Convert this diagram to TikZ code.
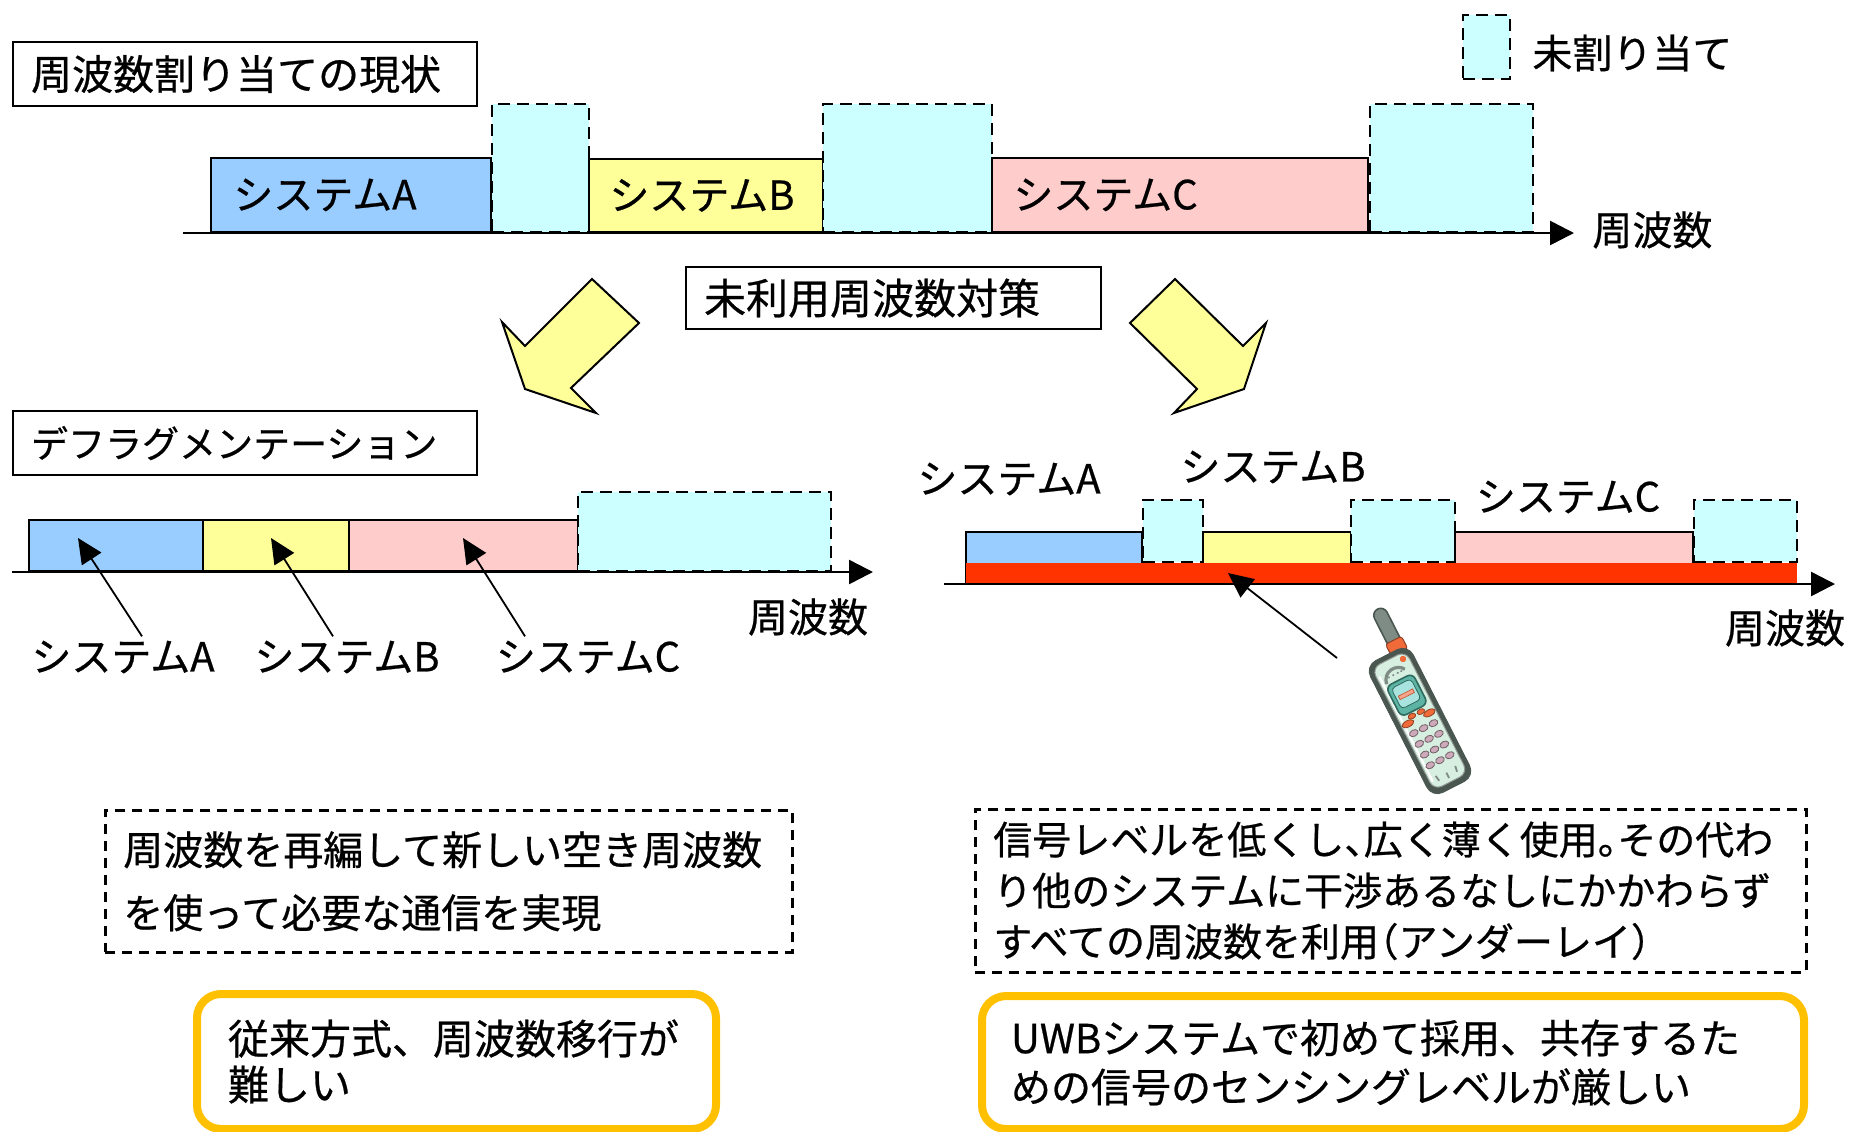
\documentclass[tikz,border=0pt]{standalone}
\usepackage{fontspec}
\setmainfont{Noto Sans CJK JP}[FakeBold=0.6]
\usetikzlibrary{arrows.meta,calc}

% band colours
\definecolor{bandA}{HTML}{99CCFF}
\definecolor{bandB}{HTML}{FFFF99}
\definecolor{bandC}{HTML}{FFCCCC}
\definecolor{freeband}{HTML}{CCFFFF}
\definecolor{uwbred}{HTML}{FF3300}
\definecolor{noteorange}{HTML}{FFC000}
\definecolor{bigarrow}{HTML}{FFFF99}
% handset colours
\definecolor{phonedark}{HTML}{4A5650}
\definecolor{phonegray}{HTML}{7F8C86}
\definecolor{phonemint}{HTML}{D6EFE0}
\definecolor{phoneteal}{HTML}{5DB3A4}
\definecolor{phonetealdark}{HTML}{2E6B5E}
\definecolor{phonescreen}{HTML}{A9E3DF}
\definecolor{phonebar}{HTML}{F4A48A}
\definecolor{phoneorange}{HTML}{F06A3A}
\definecolor{phonekey}{HTML}{CDAAB9}

% half-width punctuation
\newcommand{\hw}[1]{{\addfontfeature{RawFeature=+halt}#1}}

\tikzset{
  txt/.style={inner sep=0pt},
  f18/.style={font=\fontsize{18.5}{22}\selectfont},
  f19/.style={font=\fontsize{19.5}{25.5}\selectfont},
  f195/.style={font=\fontsize{20}{24.5}\selectfont},
  f20/.style={font=\fontsize{20}{24}\selectfont},
  f20b/.style={font=\fontsize{20}{31.5}\selectfont},
  f205/.style={font=\fontsize{20.5}{23}\selectfont},
  f21/.style={font=\fontsize{21}{25}\selectfont},
  titlebox/.style={draw, line width=1.1pt, anchor=north west, align=left, inner xsep=9pt, inner ysep=0pt},
  band/.style={draw, line width=1.1pt, anchor=south west, inner sep=0pt},
  freebox/.style={draw, line width=1.1pt, dash pattern=on 6pt off 3.5pt, fill=freeband, anchor=south west, inner sep=0pt},
  notebox/.style={draw, line width=1.3pt, dash pattern=on 5pt off 3.5pt, anchor=north west, align=left, inner xsep=9pt, inner ysep=0pt},
  goalbox/.style={draw=noteorange, line width=4pt, rounded corners=12pt, fill=white, anchor=north west, align=left, inner ysep=0pt},
  freqaxis/.style={line width=1.3pt, -{Triangle[length=12pt,width=12pt]}},
  ptr/.style={line width=0.9pt, -{Triangle[length=12.5pt,width=11.5pt]}},
  blockarrow/.style={draw, line width=1pt, fill=bigarrow, line join=miter},
}

\begin{document}
\begin{tikzpicture}[x=0.5pt,y=-0.5pt]
\useasboundingbox (0,0) rectangle (1852,1131);

% ===== current allocation =====
\node[titlebox, f205, text width=214pt, minimum height=32pt] (cur) at (12,41) {周波数割り当ての現状};

\coordinate (ax1s) at (183,233);
\coordinate (ax1e) at (1574,233);
\draw[freqaxis] (ax1s) -- (ax1e);

\node[band, fill=bandA, minimum width=140pt, minimum height=37pt] (sA1) at (210,233) {};
\node[freebox, minimum width=48.5pt, minimum height=64pt] (u1) at (491,233) {};
\node[band, fill=bandB, minimum width=117pt, minimum height=36.5pt] (sB1) at (588,233) {};
\node[freebox, minimum width=84.5pt, minimum height=64pt] (u2) at (822,233) {};
\node[band, fill=bandC, minimum width=188pt, minimum height=37pt] (sC1) at (991,233) {};
\node[freebox, minimum width=81.5pt, minimum height=64pt] (u3) at (1369,233) {};

\node[txt, f20, anchor=west] (tA1) at ($(sA1.west)+(23,0)$) {システムA};
\node[txt, f20, anchor=west] (tB1) at ($(sB1.west)+(21,0)$) {システムB};
\node[txt, f20, anchor=west] (tC1) at ($(sC1.west)+(22,0)$) {システムC};
\node[txt, f20, anchor=west] (fq1) at (1592,230) {周波数};

% legend
\node[freebox, anchor=north west, minimum width=23.5pt, minimum height=32pt] (lg) at (1462,14) {};
\node[txt, f20, anchor=west] (lgt) at (1532,53) {未割り当て};

% ===== countermeasures =====
\node[titlebox, f21, text width=189.5pt, minimum height=31pt] (mid) at (685,266) {未利用周波数対策};

\draw[blockarrow] (592,279) -- (639,323) -- (571,388) -- (596,413) -- (525,389)
  -- (502,322) -- (525,346) -- cycle;
\draw[blockarrow] (1175,279) -- (1130,323) -- (1197,389) -- (1174,413) -- (1244,389)
  -- (1266,323) -- (1243,346) -- cycle;

% ===== defragmentation =====
\node[titlebox, f18, text width=214pt, minimum height=32pt] (defrag) at (12,410) {デフラグメンテーション};

\coordinate (ax2s) at (12,572);
\coordinate (ax2e) at (873,572);
\draw[freqaxis] (ax2s) -- (ax2e);

\node[band, fill=bandA, minimum width=87pt, minimum height=25.5pt] (sA2) at (28,572) {};
\node[band, fill=bandB, minimum width=73pt, minimum height=25.5pt] (sB2) at (202,572) {};
\node[band, fill=bandC, minimum width=114.5pt, minimum height=25.5pt] (sC2) at (348,572) {};
\node[freebox, minimum width=126.5pt, minimum height=39.5pt] (u4) at (577,572) {};

\node[txt, f20] (lA2) at (123,657) {システムA};
\node[txt, f20] (lB2) at (347,657) {システムB};
\node[txt, f20] (lC2) at (588,657) {システムC};
\node[txt, f20] (fq2) at (808,617) {周波数};

\coordinate (pA) at (78,538);
\coordinate (pB) at (271,538);
\coordinate (pC) at (463,538);
\draw[ptr] ([xshift=9.5pt,yshift=2pt]lA2.north) -- (pA);
\draw[ptr] ([xshift=-7pt,yshift=2pt]lB2.north) -- (pB);
\draw[ptr] ([xshift=-31.5pt,yshift=2pt]lC2.north) -- (pC);

% ===== underlay =====
\node[band, fill=bandA, minimum width=88pt, minimum height=25.5pt] (sA3) at (965,584) {};
\node[freebox, minimum width=30pt, minimum height=31pt] (u5) at (1142,563) {};
\node[band, fill=bandB, minimum width=74pt, minimum height=25.5pt] (sB3) at (1202,584) {};
\node[freebox, minimum width=52pt, minimum height=31pt] (u6) at (1350,563) {};
\node[band, fill=bandC, minimum width=119pt, minimum height=25.5pt] (sC3) at (1454,584) {};
\node[freebox, minimum width=51.5pt, minimum height=31pt] (u7) at (1693,563) {};

\fill[uwbred] (966,563) rectangle (1797,583.5);

\coordinate (ax3s) at (944,584);
\coordinate (ax3e) at (1835,584);
\draw[freqaxis] (ax3s) -- (ax3e);

\node[txt, f20] (lA3) at (1009,479) {システムA};
\node[txt, f20] (lB3) at (1273,467) {システムB};
\node[txt, f20] (lC3) at (1568,497) {システムC};
\node[txt, f20] (fq3) at (1785,628) {周波数};

% handset
\begin{scope}[shift={(1420,721)}, rotate=27]
  \filldraw[fill=phonegray, draw=phonedark, line width=0.8pt, rounded corners=3.5pt] (6,-66) rectangle (20,-119);
  \filldraw[fill=phoneorange, draw=phoneorange!60!black, line width=0.5pt, rounded corners=1.5pt] (4,-70) rectangle (22,-84);
  \filldraw[fill=phonedark, draw=phonedark, rounded corners=6pt] (-24,-74) rectangle (24,74);
  \filldraw[fill=phonemint, draw=phonedark!60, line width=0.5pt, rounded corners=4.5pt] (-19,-69) rectangle (19,68);
  \draw[white, line width=1pt] (-16,-58) -- (-16,60);
  \draw[phonegray, line width=1.6pt] (-13,-48) .. controls (-11,-61) and (5,-62) .. (10,-53);
  \foreach \k in {-8,-3,2,6}
    \fill[phonegray] (\k,-53) circle (0.6pt);
  \fill[phoneorange] (13,-63) circle (1.6pt);
  \filldraw[fill=phoneteal, draw=phonetealdark, line width=0.8pt, rounded corners=3pt] (-15,-46) rectangle (15,-12);
  \filldraw[fill=phonescreen, draw=phonetealdark, line width=0.4pt, rounded corners=2pt] (-11,-42) rectangle (11,-19);
  \filldraw[fill=phonebar, draw=phoneorange!80!black, line width=0.3pt] (-8,-32) rectangle (8,-28);
  \filldraw[fill=phoneorange, draw=phoneorange!60!black, line width=0.4pt] (-12,-3) ellipse (3.2pt and 1.6pt);
  \filldraw[fill=phoneorange, draw=phoneorange!60!black, line width=0.4pt] (12,-3) ellipse (3.2pt and 1.6pt);
  \filldraw[fill=phoneorange, draw=phoneorange!60!black, line width=0.4pt] (-5,-8) ellipse (2pt and 1.3pt);
  \filldraw[fill=phoneorange, draw=phoneorange!60!black, line width=0.4pt] (5,-8) ellipse (2pt and 1.3pt);
  \foreach \r in {0,...,3}
    \foreach \c in {-1,0,1}
      \filldraw[fill=phonekey, draw=phonekey!55!black, line width=0.4pt] (\c*11,8+\r*12) ellipse (2.3pt and 1.6pt);
  \draw[phonegray, line width=0.9pt] (-11,56) -- (-10,62);
  \draw[phonegray, line width=0.9pt] (0,58) -- (0,64);
  \draw[phonegray, line width=0.9pt] (11,56) -- (10,62);
\end{scope}

\coordinate (handset) at (1337,658);
\coordinate (uwbpt) at (1228,573);
\draw[ptr] (handset) -- (uwbpt);

% ===== notes =====
\node[notebox, f20b, text width=325.5pt, minimum height=71pt] (noteL) at (104,809)
  {周波数を再編して新しい空き周波数\\を使って必要な通信を実現};
\node[goalbox, f205, inner xsep=15.5pt, text width=228.5pt, minimum height=67.5pt] (goalL) at (193,990)
  {従来方式、周波数移行が\\難しい};

\node[notebox, f19, text width=397.5pt, minimum height=81.5pt] (noteR) at (974,808)
  {信号レベルを低くし\hw{、}広く薄く使用\hw{。}その代わ\\り他のシステムに干渉あるなしにかかわらず\\すべての周波数を利用\hw{（}アンダーレイ\hw{）}};
\node[goalbox, f195, inner xsep=14.5pt, text width=382pt, minimum height=66.5pt] (goalR) at (978,992)
  {UWBシステムで初めて採用、共存するた\\めの信号のセンシングレベルが厳しい};

\end{tikzpicture}
\end{document}
